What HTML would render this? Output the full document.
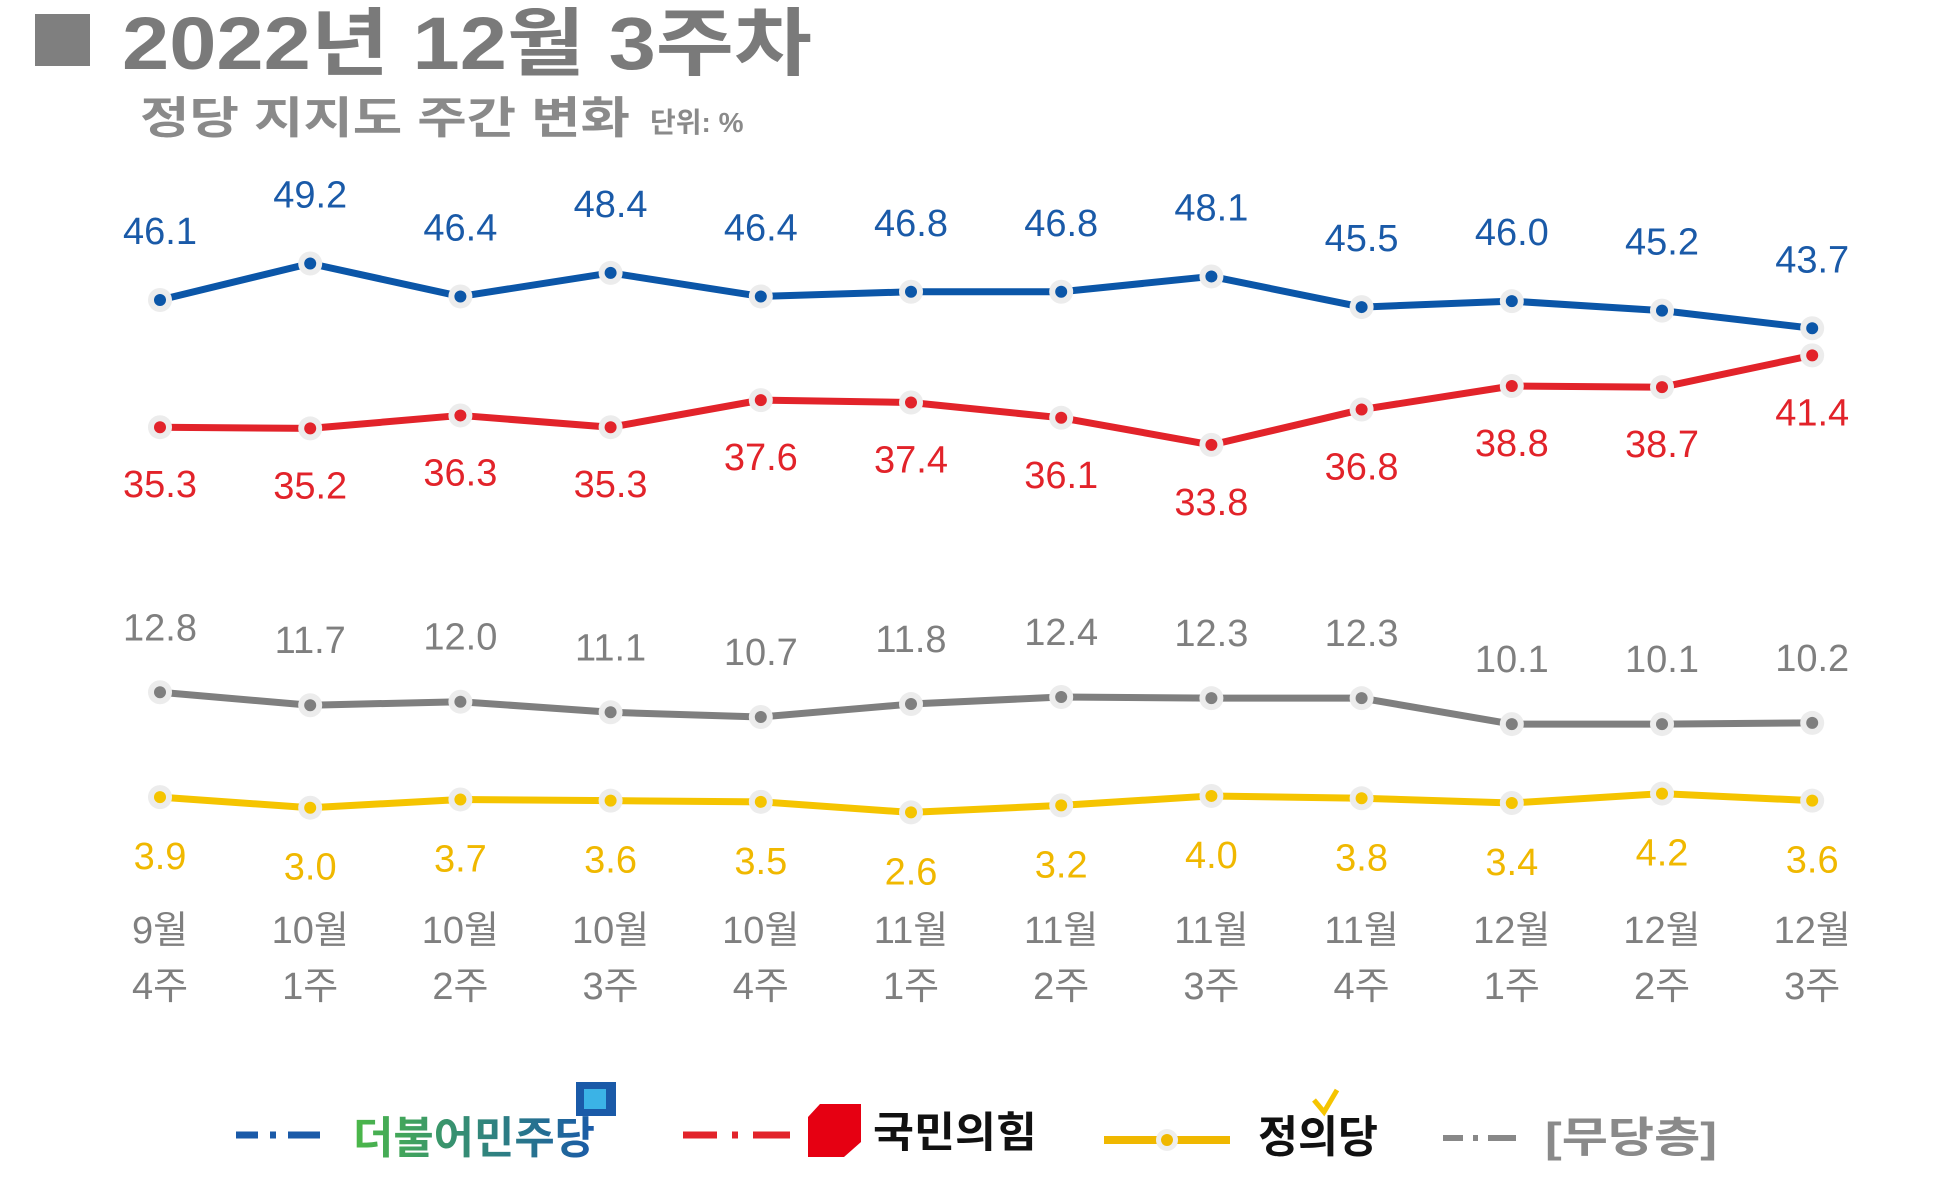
<!DOCTYPE html>
<html><head><meta charset="utf-8">
<style>
body{margin:0;background:#fff;}
svg{display:block;font-family:"Liberation Sans","Noto Sans CJK KR",sans-serif;}
</style></head>
<body>
<svg id="chart" width="1942" height="1189" viewBox="0 0 1942 1189" xmlns="http://www.w3.org/2000/svg">
<rect x="35" y="14" width="55" height="52" fill="#7f7f7f"/>
<text x="122" y="69" font-size="74" font-weight="bold" fill="#7a7a7a" textLength="690" lengthAdjust="spacingAndGlyphs">2022년 12월 3주차</text>
<text x="140" y="133" font-size="44" font-weight="bold" fill="#8a8a8a" textLength="490" lengthAdjust="spacingAndGlyphs">정당 지지도 주간 변화</text>
<text x="650" y="132" font-size="28" font-weight="bold" fill="#8a8a8a">단위: %</text>
<g id="plot"></g>
<g id="xaxis"></g>
<g transform="translate(0,-8)">
 <g>
  <line x1="236" y1="1143" x2="320" y2="1143" stroke="#1a5aa8" stroke-width="7" stroke-dasharray="22,12,6,12,33"/>
  <rect x="576" y="1090" width="40" height="34" fill="#1a5aa8"/><rect x="584" y="1097" width="22" height="20" fill="#3bb3e6"/>
  <defs><linearGradient id="dg" x1="0" x2="1"><stop offset="0" stop-color="#4cb848"/><stop offset="1" stop-color="#1a5aa8"/></linearGradient></defs>
  <text x="353" y="1161" font-size="44" font-weight="bold" fill="url(#dg)" textLength="242" lengthAdjust="spacingAndGlyphs">더불어민주당</text>
 </g>
 <g>
  <line x1="683" y1="1143" x2="790" y2="1143" stroke="#e2232a" stroke-width="7" stroke-dasharray="34,15,6,15,39"/>
  <polygon points="820,1112 861,1112 861,1150 844,1165 808,1165 808,1125" fill="#e60012"/>
  <text x="873" y="1155" font-size="42" font-weight="bold" fill="#111" textLength="164" lengthAdjust="spacingAndGlyphs">국민의힘</text>
 </g>
 <g>
  <line x1="1104" y1="1148" x2="1230" y2="1148" stroke="#f0b800" stroke-width="8"/>
  <circle cx="1167" cy="1148" r="11" fill="#eee"/><circle cx="1167" cy="1148" r="6" fill="#f0b800"/>
  <polyline points="1314,1108 1324,1120 1337,1098" fill="none" stroke="#f5c400" stroke-width="5"/>
  <text x="1258" y="1160" font-size="44" font-weight="bold" fill="#111" textLength="120" lengthAdjust="spacingAndGlyphs">정의당</text>
 </g>
 <g>
  <line x1="1443" y1="1146" x2="1516" y2="1146" stroke="#888" stroke-width="6" stroke-dasharray="20,10,5,10,29"/>
  <text x="1545" y="1160" font-size="42" font-weight="bold" fill="#8a8a8a" textLength="172" lengthAdjust="spacingAndGlyphs">[무당층]</text>
 </g>
</g>
</svg>
<script>
const weeks = ["9월|4주","10월|1주","10월|2주","10월|3주","10월|4주","11월|1주","11월|2주","11월|3주","11월|4주","12월|1주","12월|2주","12월|3주"];
const democratic = [46.1,49.2,46.4,48.4,46.4,46.8,46.8,48.1,45.5,46.0,45.2,43.7];
const ppp = [35.3,35.2,36.3,35.3,37.6,37.4,36.1,33.8,36.8,38.8,38.7,41.4];
const independent = [12.8,11.7,12.0,11.1,10.7,11.8,12.4,12.3,12.3,10.1,10.1,10.2];
const justice = [3.9,3.0,3.7,3.6,3.5,2.6,3.2,4.0,3.8,3.4,4.2,3.6];

const NS="http://www.w3.org/2000/svg";
function xScale(i){return 160 + i*150.2;}
function yScale(v){return 300 + (46.1 - v)*11.78;}
const plot=document.getElementById('plot');
function mk(tag,attrs,parent){const e=document.createElementNS(NS,tag);for(const k in attrs)e.setAttribute(k,attrs[k]);parent.appendChild(e);return e;}

const series=[
 {name:'democratic',vals:democratic,color:'#0b56a8',text:'#1a5aa8',off:-56},
 {name:'ppp',vals:ppp,color:'#e2232a',text:'#e2232a',off:70},
 {name:'independent',vals:independent,color:'#7f7f7f',text:'#7f7f7f',off:-52},
 {name:'justice',vals:justice,color:'#f5c400',text:'#f0b800',off:72}
];
series.forEach(s=>{
 const g=mk('g',{},plot);
 
 
 const pts=s.vals.map((v,i)=>xScale(i)+','+yScale(v)).join(' ');
 const pl=mk('polyline',{points:pts,fill:'none',stroke:s.color,'stroke-width':7,'stroke-linejoin':'round'},g);
 
 
 s.vals.forEach((v,i)=>{
  const h=mk('circle',{cx:xScale(i),cy:yScale(v),r:12,fill:'#ececec'},g);
  
  
  const c=mk('circle',{cx:xScale(i),cy:yScale(v),r:6,fill:s.color},g);
  
  
  const t=mk('text',{x:xScale(i),y:yScale(v)+s.off,'font-size':38,fill:s.text,'text-anchor':'middle'},g);
  t.textContent=v.toFixed(1);
  
  
 });
});
const xa=document.getElementById('xaxis');
weeks.forEach((w,i)=>{
 const p=w.split('|');
 const t1=mk('text',{x:xScale(i),y:943,'font-size':38,fill:'#7f7f7f','text-anchor':'middle'},xa);
 t1.textContent=p[0];
 
 
 const t2=mk('text',{x:xScale(i),y:999,'font-size':38,fill:'#7f7f7f','text-anchor':'middle'},xa);
 t2.textContent=p[1];
 
 
});
</script>
</body></html>
